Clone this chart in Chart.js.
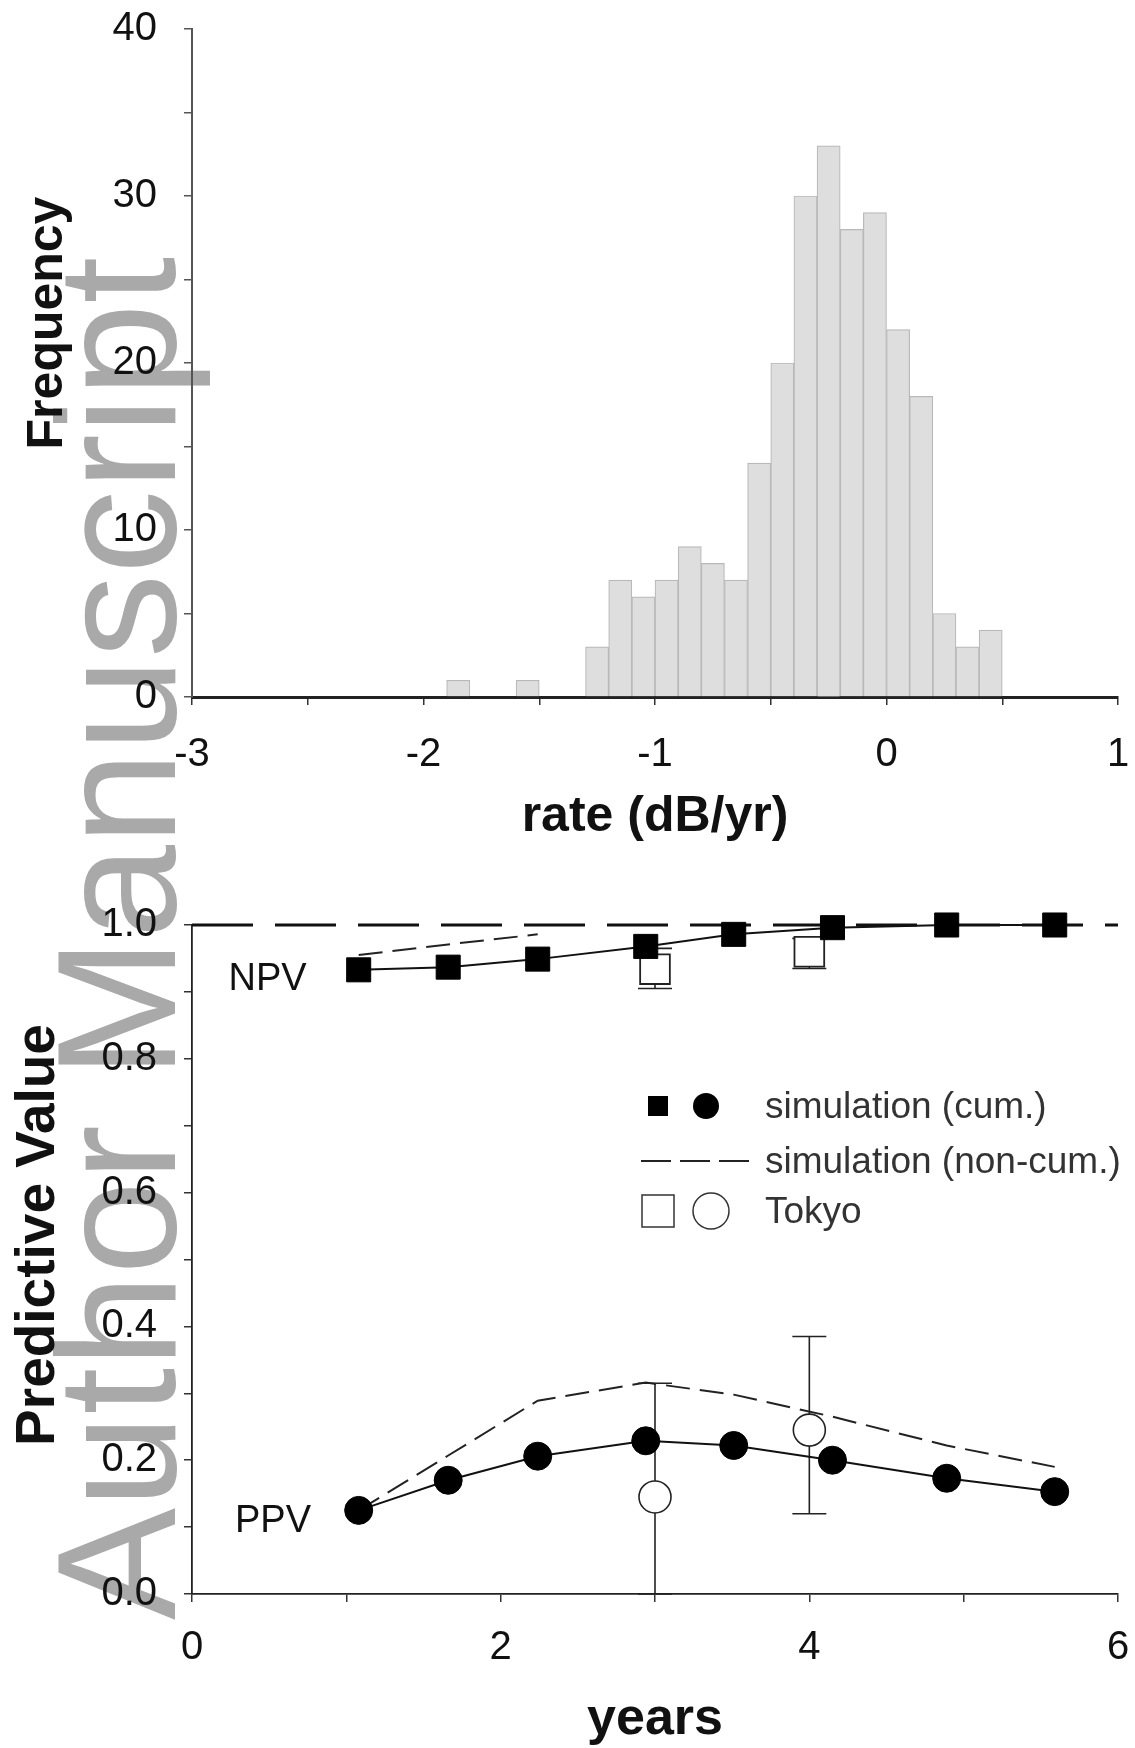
<!DOCTYPE html>
<html>
<head>
<meta charset="utf-8">
<script src="https://cdn.jsdelivr.net/npm/chart.js@4.4.1/dist/chart.umd.min.js"></script>
<style>
html,body{margin:0;padding:0;background:#fff;}
#page{position:relative;width:1135px;height:1748px;overflow:hidden;background:#fff;}
#wm{position:absolute;left:33px;top:1620px;transform-origin:0 0;transform:rotate(-90deg);
  font-family:"Liberation Sans",Arial,sans-serif;font-size:168px;line-height:1;color:#a9a9a9;white-space:nowrap;z-index:0;}
canvas{position:absolute;left:0;z-index:1;}
#c1{top:0;}
#c2{top:880px;}
</style>
</head>
<body>
<div id="page">
  <div id="wm">Author Manuscript</div>
  <canvas id="c1" width="1135" height="880"></canvas>
  <canvas id="c2" width="1135" height="868"></canvas>
</div>
<script>
// ---------------- data: histogram ----------------
const rateBinStart = [-1.9, -1.6, -1.3, -1.2, -1.1, -1.0, -0.9, -0.8, -0.7, -0.6, -0.5, -0.4, -0.3, -0.2, -0.1, 0.0, 0.1, 0.2, 0.3, 0.4];
const rateCounts   = [1, 1, 3, 7, 6, 7, 9, 8, 7, 14, 20, 30, 33, 28, 29, 22, 18, 5, 3, 4];
const rateBinWidth = 0.1;
const rateTickLabels = [-3, -2, -1, 0, 1];
const freqTickLabels = [0, 10, 20, 30, 40];

// ---------------- data: predictive values ----------------
const years      = [1.08, 1.66, 2.24, 2.94, 3.51, 4.15, 4.89, 5.59];
const npvCum     = [0.933, 0.937, 0.949, 0.968, 0.986, 0.996, 1.0, 1.0];
const npvNonCum  = [0.955, 0.971, 0.986, null, null, null, null, null];
const ppvCum     = [0.125, 0.170, 0.206, 0.229, 0.222, 0.200, 0.173, 0.153];
const ppvNonCum  = [0.125, 0.207, 0.289, 0.316, 0.298, 0.265, 0.222, 0.190];
const tokyoYears = [3, 4];
const tokyoNPV     = [0.934, 0.960];
const tokyoNPVLow  = [0.905, 0.935];
const tokyoNPVHigh = [0.965, 0.980];
const tokyoPPV     = [0.145, 0.245];
const tokyoPPVLow  = [0.0, 0.12];
const tokyoPPVHigh = [0.315, 0.385];
const refLevel = 1.0;
const refRange = [0, 6];
const yearsTickLabels = [0, 2, 4, 6];
const pvTickLabels = ['0.0', '0.2', '0.4', '0.6', '0.8', '1.0'];
const legendLabels = ['simulation (cum.)', 'simulation (non-cum.)', 'Tokyo'];
const curveLabels = ['NPV', 'PPV'];

// ---------------- helpers ----------------
const FAM = '"Liberation Sans", Arial, Helvetica, sans-serif';
const near = (a, b) => Math.abs(a - b) < 1e-6;
function labelFrom(list, fmt) {
  return function (v) {
    for (const l of list) { if (near(Number(l), v)) return fmt ? fmt(l) : String(l); }
    return '';
  };
}

// decorative text plugin (rotated y titles, curve labels, legend)
const decorPlugin = {
  id: 'decor',
  afterDraw(chart, args, opts) {
    const ctx = chart.ctx;
    ctx.save();
    if (opts.yTitle) {
      const t = opts.yTitle;
      ctx.translate(t.x, t.y);
      ctx.rotate(-Math.PI / 2);
      ctx.font = 'bold ' + t.size + 'px ' + FAM;
      ctx.fillStyle = '#111';
      ctx.textAlign = 'center';
      ctx.textBaseline = 'middle';
      ctx.fillText(t.text, 0, 0);
      ctx.setTransform(1, 0, 0, 1, 0, 0);
    }
    if (opts.curveLabels) {
      const xs = chart.scales.x, ys = chart.scales.y;
      ctx.font = opts.curveFont + 'px ' + FAM;
      ctx.fillStyle = '#111';
      ctx.textAlign = 'center';
      ctx.textBaseline = 'middle';
      opts.curveLabels.forEach(c => {
        ctx.fillText(c.text, xs.getPixelForValue(c.x), ys.getPixelForValue(c.y));
      });
    }
    if (opts.legend) {
      const L = opts.legend;
      ctx.strokeStyle = '#222';
      ctx.fillStyle = '#000';
      ctx.fillRect(L.sym1x - 10, L.rows[0] - 10, 20, 20);
      ctx.beginPath(); ctx.arc(L.sym2x, L.rows[0], 13, 0, Math.PI * 2); ctx.fill();
      ctx.lineWidth = 2;
      ctx.setLineDash([30, 9]);
      ctx.beginPath(); ctx.moveTo(L.lineX0, L.rows[1]); ctx.lineTo(L.lineX1, L.rows[1]); ctx.stroke();
      ctx.setLineDash([]);
      ctx.lineWidth = 1.5;
      ctx.strokeStyle = '#333';
      ctx.strokeRect(L.sym1x - 16, L.rows[2] - 16, 32, 32);
      ctx.beginPath(); ctx.arc(L.sym2x + 5, L.rows[2], 18, 0, Math.PI * 2); ctx.stroke();
      ctx.fillStyle = '#333';
      ctx.font = L.font + 'px ' + FAM;
      ctx.textAlign = 'left';
      ctx.textBaseline = 'middle';
      L.labels.forEach((txt, i) => ctx.fillText(txt, L.textX, L.rows[i] + 2));
    }
    ctx.restore();
  }
};

// error bars drawn beneath the datasets
const errorBarPlugin = {
  id: 'errorBars',
  beforeDatasetsDraw(chart, args, opts) {
    if (!opts.sets) return;
    const ctx = chart.ctx, xs = chart.scales.x, ys = chart.scales.y;
    ctx.save();
    ctx.strokeStyle = '#222';
    ctx.lineWidth = 1.6;
    opts.sets.forEach(set => {
      set.x.forEach((xv, i) => {
        const px = xs.getPixelForValue(xv);
        const lo = ys.getPixelForValue(set.low[i]);
        const hi = ys.getPixelForValue(set.high[i]);
        const c = opts.cap;
        ctx.beginPath();
        ctx.moveTo(px, lo); ctx.lineTo(px, hi);
        ctx.moveTo(px - c, lo); ctx.lineTo(px + c, lo);
        ctx.moveTo(px - c, hi); ctx.lineTo(px + c, hi);
        ctx.stroke();
      });
    });
    ctx.restore();
  }
};

Chart.register(decorPlugin, errorBarPlugin);

function fixY(width) {
  return s => { s.width = width; s.paddingTop = 0; s.paddingBottom = 0; };
}
function fixX(height) {
  return s => { s.height = height; s.paddingLeft = 0; s.paddingRight = 0; };
}

// ---------------- chart 1: histogram ----------------
new Chart(document.getElementById('c1'), {
  type: 'bar',
  data: {
    datasets: [{
      data: rateBinStart.map((b, i) => ({ x: b + rateBinWidth / 2, y: rateCounts[i] })),
      backgroundColor: '#dedede',
      borderColor: '#b9b9b9',
      borderWidth: 1.2,
      barPercentage: 1,
      categoryPercentage: 1
    }]
  },
  options: {
    responsive: false,
    animation: false,
    devicePixelRatio: 1,
    layout: { autoPadding: false, padding: { top: 29, right: 17, left: 0, bottom: 0 } },
    plugins: {
      legend: { display: false },
      tooltip: { enabled: false },
      decor: { yTitle: { text: 'Frequency', x: 48, y: 323, size: 50 } },
      errorBars: {}
    },
    scales: {
      x: {
        type: 'linear', min: -3, max: 1, offset: false,
        ticks: { stepSize: 0.5, autoSkip: false, maxRotation: 0, padding: 26, color: '#111',
                 font: { family: FAM, size: 40 }, callback: labelFrom(rateTickLabels) },
        grid: { offset: false, drawOnChartArea: false, drawTicks: true, tickLength: 8, color: '#333', lineWidth: 1.5 },
        border: { display: true, color: '#222', width: 3 },
        title: { display: true, text: 'rate (dB/yr)', color: '#111',
                 font: { family: FAM, size: 50, weight: 'bold' }, padding: { top: 0, bottom: 33 } },
        afterFit: fixX(880 - 697)
      },
      y: {
        type: 'linear', min: 0, max: 40,
        ticks: { stepSize: 5, autoSkip: false, padding: 27, color: '#111',
                 font: { family: FAM, size: 40 }, callback: labelFrom(freqTickLabels) },
        grid: { drawOnChartArea: false, drawTicks: true, tickLength: 8, color: '#555', lineWidth: 1.5 },
        border: { display: true, color: '#555', width: 2 },
        afterFit: fixY(192)
      }
    }
  }
});

// ---------------- chart 2: predictive values ----------------
const pts = (xs, ys) => xs.map((x, i) => ({ x: x, y: ys[i] }));
new Chart(document.getElementById('c2'), {
  type: 'line',
  data: {
    datasets: [
      { label: 'NPV simulation (cum.)', data: pts(years, npvCum), borderColor: '#111', borderWidth: 2,
        pointStyle: 'rect', pointRadius: 17, pointBackgroundColor: '#000', pointBorderColor: '#000', pointBorderWidth: 1, clip: false },
      { label: 'PPV simulation (cum.)', data: pts(years, ppvCum), borderColor: '#111', borderWidth: 2,
        pointStyle: 'circle', pointRadius: 14, pointBackgroundColor: '#000', pointBorderColor: '#000', pointBorderWidth: 1, clip: false },
      { label: 'NPV Tokyo', data: pts(tokyoYears, tokyoNPV), showLine: false,
        pointStyle: 'rect', pointRadius: 21, pointBackgroundColor: '#fff', pointBorderColor: '#222', pointBorderWidth: 1.8, clip: false },
      { label: 'PPV Tokyo', data: pts(tokyoYears, tokyoPPV), showLine: false,
        pointStyle: 'circle', pointRadius: 16, pointBackgroundColor: '#fff', pointBorderColor: '#222', pointBorderWidth: 1.6, clip: false },
      { label: 'NPV simulation (non-cum.)', data: pts(years, npvNonCum), borderColor: '#222', borderWidth: 2,
        borderDash: [24, 10], pointRadius: 0, clip: false, spanGaps: false },
      { label: 'PPV simulation (non-cum.)', data: pts(years, ppvNonCum), borderColor: '#222', borderWidth: 2,
        borderDash: [24, 10], pointRadius: 0, clip: false },
      { label: 'reference 1.0', data: pts(refRange, [refLevel, refLevel]), borderColor: '#111', borderWidth: 3,
        borderDash: [61, 22], pointRadius: 0, clip: false }
    ]
  },
  options: {
    responsive: false,
    animation: false,
    devicePixelRatio: 1,
    elements: { line: { tension: 0 } },
    layout: { autoPadding: false, padding: { top: 45, right: 17, left: 0, bottom: 0 } },
    plugins: {
      legend: { display: false },
      tooltip: { enabled: false },
      errorBars: {
        cap: 17,
        sets: [
          { x: tokyoYears, low: tokyoNPVLow, high: tokyoNPVHigh },
          { x: tokyoYears, low: tokyoPPVLow, high: tokyoPPVHigh }
        ]
      },
      decor: {
        yTitle: { text: 'Predictive Value', x: 39, y: 355, size: 55 },
        curveFont: 38,
        curveLabels: [
          { text: curveLabels[0], x: 0.49, y: 0.919 },
          { text: curveLabels[1], x: 0.525, y: 0.109 }
        ],
        legend: { rows: [226, 281, 331], sym1x: 658, sym2x: 706, lineX0: 641, lineX1: 750,
                  textX: 765, font: 37, labels: legendLabels }
      }
    },
    scales: {
      x: {
        type: 'linear', min: 0, max: 6, offset: false,
        ticks: { stepSize: 1, autoSkip: false, maxRotation: 0, padding: 22, color: '#111',
                 font: { family: FAM, size: 40 }, callback: labelFrom(yearsTickLabels) },
        grid: { drawOnChartArea: false, drawTicks: true, tickLength: 8, color: '#333', lineWidth: 1.5 },
        border: { display: true, color: '#222', width: 1.8 },
        title: { display: true, text: 'years', color: '#111',
                 font: { family: FAM, size: 52, weight: 'bold', lineHeight: 1.0 }, padding: { top: 0, bottom: 2 } },
        afterFit: fixX(1748 - 1594)
      },
      y: {
        type: 'linear', min: 0, max: 1,
        ticks: { stepSize: 0.1, autoSkip: false, padding: 27, color: '#111',
                 font: { family: FAM, size: 40 }, callback: labelFrom(pvTickLabels, l => l) },
        grid: { drawOnChartArea: false, drawTicks: true, tickLength: 8, color: '#333', lineWidth: 1.5 },
        border: { display: true, color: '#222', width: 1.8 },
        afterFit: fixY(192)
      }
    }
  }
});
</script>
</body>
</html>
